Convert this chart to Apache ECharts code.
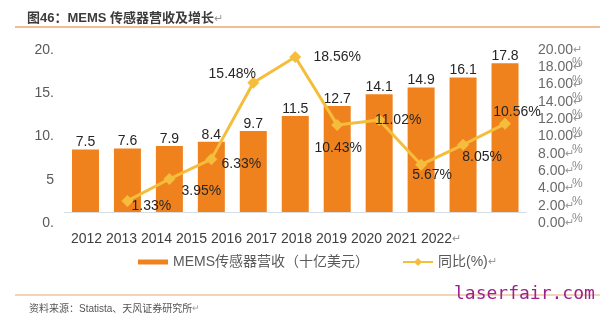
<!DOCTYPE html>
<html>
<head>
<meta charset="utf-8">
<script src="https://cdn.jsdelivr.net/npm/echarts@6/dist/echarts.min.js"></script>
<style>
html,body{margin:0;padding:0;background:#fff;}
#chart{width:600px;height:323px;}
</style>
</head>
<body>
<div id="chart"></div>
<script>
// ---- data ----
const categories = ['2012','2013','2014','2015','2016','2017','2018','2019','2020','2021','2022'];
const revenue = [7.5, 7.6, 7.9, 8.4, 9.7, 11.5, 12.7, 14.1, 14.9, 16.1, 17.8];
const growth = ['-', 1.33, 3.95, 6.33, 15.48, 18.56, 10.43, 11.02, 5.67, 8.05, 10.56];
const leftTickValues = [0, 5, 10, 15, 20];
const leftTickLabels = ['0.', '5', '10.', '15.', '20.'];
const rightTickValues = [0, 2, 4, 6, 8, 10, 12, 14, 16, 18, 20];
const rightTickLabels = ['0.00','2.00','4.00','6.00','8.00','10.00','12.00','14.00','16.00','18.00','20.00'];
const rightUnitLabels = ['', '%', '%', '%', '%', '%', '%', '%', '%', '%', '%'];
const barName = 'MEMS传感器营收（十亿美元）';
const lineName = '同比(%)';
const titleText = '图46：MEMS 传感器营收及增长';
const sourceText = '资料来源：Statista、天风证券研究所';
const watermark = 'laserfair.com';

// ---- layout / style ----
const FONT = '"Liberation Sans", Arial, "Noto Sans CJK SC", sans-serif';
const lineLabelOffsets = [[0,0],[24,5],[32,12],[30,5],[-21,-9],[42,0],[1,23],[19,0],[11,10],[19,12],[12,-12]];
const RET = '\u21B5';

const chart = echarts.init(document.getElementById('chart'), null, {renderer:'canvas'});
chart.setOption({
  backgroundColor: '#ffffff',
  animation: false,
  textStyle: { fontFamily: FONT },
  title: [
    { text: titleText + '{r|' + RET + '}', left: 22, top: 7,
      textStyle: { fontSize: 13, fontWeight: 'bold', color: '#3b3b3b', fontFamily: FONT,
        rich: { r: { fontSize: 11, color: '#9a9a9a', fontWeight: 'normal' } } } },
    { text: sourceText + '{r|' + RET + '}', left: 24, top: 299,
      textStyle: { fontSize: 10, fontWeight: 'normal', color: '#555555', fontFamily: FONT,
        rich: { r: { fontSize: 9, color: '#9a9a9a' } } } },
    { text: watermark, left: 449, top: 280,
      textStyle: { fontSize: 18, fontWeight: 'normal', color: '#9C1F8E', fontFamily: '"DejaVu Sans Mono", "Liberation Mono", monospace' } }
  ],
  graphic: [
    { type: 'line', shape: { x1: 15, y1: 27, x2: 600, y2: 27 }, style: { stroke: '#E8A870', lineWidth: 1.5 }, z: 0 },
    { type: 'line', shape: { x1: 15, y1: 295, x2: 600, y2: 295 }, style: { stroke: '#E8A870', lineWidth: 1.2 }, z: 0 }
  ],
  legend: {
    left: 133, top: 250,
    itemWidth: 30, itemHeight: 10, itemGap: 33,
    textStyle: { fontSize: 14, color: '#595959', fontFamily: FONT,
      rich: { r: { fontSize: 11, color: '#9a9a9a' } } },
    formatter: function (name) { return name === lineName ? name + '{r|' + RET + '}' : name; },
    data: [ { name: barName, icon: 'path://M0,0h30v5h-30z' }, { name: lineName } ]
  },
  grid: [
    { left: 64.5, width: 461.5, top: 45, height: 167 },
    { left: 69, width: 385, top: 50, height: 173 },
    { left: 69, width: 385, top: 63, height: 173 }
  ],
  xAxis: [
    { type: 'category', data: categories, gridIndex: 0,
      axisLine: { lineStyle: { color: '#D6DCE4', width: 1 } }, axisTick: { show: false }, axisLabel: { show: false } },
    { type: 'category', data: categories, gridIndex: 1,
      axisLine: { show: false }, axisTick: { show: false },
      axisLabel: { interval: 0, hideOverlap: false, margin: 9, fontSize: 14, color: '#404040', fontFamily: FONT,
        rich: { r: { fontSize: 11, color: '#9a9a9a' }, pad: { width: 9 } },
        formatter: function (v, i) { return i === categories.length - 1 ? '{pad|}' + v + '{r|' + RET + '}' : v; } } },
    { type: 'category', data: categories, gridIndex: 2, show: false }
  ],
  yAxis: [
    { type: 'value', gridIndex: 0, min: 0, max: 20, show: false },
    { type: 'value', gridIndex: 0, min: 0, max: 20, show: false },
    { type: 'value', gridIndex: 1, min: 0, max: 20, interval: 5, position: 'left',
      axisLine: { show: false }, axisTick: { show: false }, splitLine: { show: false },
      axisLabel: { margin: 15, fontSize: 14, color: '#595959', fontFamily: FONT, showMinLabel: true, showMaxLabel: true,
        formatter: function (v) { return leftTickLabels[leftTickValues.indexOf(v)]; } } },
    { type: 'value', gridIndex: 1, min: 0, max: 20, interval: 2, position: 'right', offset: 76,
      axisLine: { show: false }, axisTick: { show: false }, splitLine: { show: false },
      axisLabel: { margin: 8, fontSize: 14, color: '#6a6a6a', fontFamily: FONT,
        showMinLabel: true, showMaxLabel: true, hideOverlap: false,
        rich: { r: { fontSize: 11, color: '#9a9a9a' } },
        formatter: function (v) {
          return rightTickLabels[rightTickValues.indexOf(v)] + '{r|' + RET + '}';
        } } },
    { type: 'value', gridIndex: 2, min: 0, max: 20, interval: 2, position: 'right', offset: 76,
      axisLine: { show: false }, axisTick: { show: false }, splitLine: { show: false },
      axisLabel: { margin: 42, fontSize: 12, color: '#8a8a8a', fontFamily: FONT,
        showMinLabel: true, showMaxLabel: true, hideOverlap: false,
        formatter: function (v) { return rightUnitLabels[rightTickValues.indexOf(v)]; } } }
  ],
  series: [
    { name: barName, type: 'bar', xAxisIndex: 0, yAxisIndex: 0, barWidth: 27,
      data: revenue, itemStyle: { color: '#F0821E' },
      label: { show: true, position: 'top', distance: 0, fontSize: 14, color: '#262626', fontFamily: FONT } },
    { name: lineName, type: 'line', xAxisIndex: 0, yAxisIndex: 1,
      data: growth.map(function (v, i) {
        return v === '-' ? '-' : { value: v, label: { offset: lineLabelOffsets[i] } };
      }),
      symbol: 'diamond', symbolSize: 12,
      lineStyle: { color: '#F4BE3C', width: 3 }, itemStyle: { color: '#F4BE3C' },
      label: { show: true, position: 'inside', fontSize: 14, color: '#262626', fontFamily: FONT,
        formatter: function (p) { return p.value.toFixed(2) + '%'; } },
      z: 3 }
  ]
});
</script>
</body>
</html>
